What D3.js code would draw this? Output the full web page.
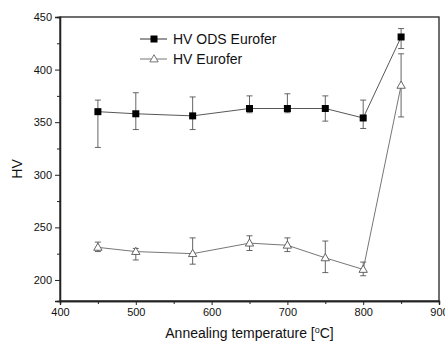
<!DOCTYPE html>
<html><head><meta charset="utf-8">
<script src="https://cdn.jsdelivr.net/npm/d3@7"></script>
<style>body{margin:0;background:#fff}svg{display:block;font-family:"Liberation Sans",Arial,sans-serif}</style>
</head><body><svg id="c" width="445" height="342"></svg>
<script>
const temps = [450, 500, 575, 650, 700, 750, 800, 850];
const odsHV = [360, 358, 356, 363, 363, 363, 354, 431];
const odsLo = [326, 343, 343, 359, 359, 351, 344, 420];
const odsHi = [371, 378, 374, 375, 377, 375, 371, 439];
const eurHV = [231, 227, 225, 235, 233, 221, 210, 385];
const eurLo = [227, 219, 215, 228, 227, 207, 204, 355];
const eurHi = [236, 230, 240, 242, 240, 237, 217, 415];
const xTicks = [400, 500, 600, 700, 800, 900];
const yTicks = [200, 250, 300, 350, 400, 450];
const seriesNames = ["HV ODS Eurofer", "HV Eurofer"];

const svg = d3.select("#c");
const L = 60, R = 439, T = 17, B = 301;
const x = d3.scaleLinear().domain([400, 900]).range([L, R]);
const y = d3.scaleLinear().domain([180, 450]).range([B, T]);

// frame
svg.append("rect").attr("x", L).attr("y", T).attr("width", R - L).attr("height", B - T)
  .attr("fill", "none").attr("stroke", "#222").attr("stroke-width", 1.3);

// axes
const xa = svg.append("g").attr("transform", `translate(0,${B})`)
  .call(d3.axisBottom(x).tickValues(xTicks).tickSize(4).tickPadding(3).tickFormat(d3.format("d")));
svg.append("g").attr("transform", `translate(0,${B})`)
  .call(d3.axisBottom(x).tickValues(d3.range(450, 900, 100)).tickSize(3).tickFormat(""));
const ya = svg.append("g").attr("transform", `translate(${L},0)`)
  .call(d3.axisLeft(y).tickValues(yTicks).tickSize(5).tickPadding(3).tickFormat(d3.format("d")));
svg.append("g").attr("transform", `translate(${L},0)`)
  .call(d3.axisLeft(y).tickValues([225, 275, 325, 375, 425]).tickSize(3).tickFormat(""));
svg.selectAll(".domain").attr("stroke", "#222").attr("stroke-width", 1.3);
svg.selectAll(".tick line").attr("stroke", "#222");
svg.selectAll(".tick text").attr("font-size", 11).attr("fill", "#111")
  .attr("font-family", "'Liberation Sans',Arial,sans-serif");

// axis titles
svg.append("text").attr("x", (L + R) / 2).attr("y", 338).attr("text-anchor", "middle")
  .attr("font-size", 14).attr("fill", "#111")
  .html('Annealing temperature [<tspan dy="-5" font-size="9">o</tspan><tspan dy="5">C]</tspan>');
svg.append("text").attr("transform", "translate(22,169) rotate(-90)").attr("text-anchor", "middle")
  .attr("font-size", 14).attr("fill", "#111").text("HV");

function drawSeries(vals, lo, hi, lineColor, marker) {
  const pts = temps.map((t, i) => ({ t, v: vals[i], lo: lo[i], hi: hi[i] }));
  const g = svg.append("g");
  g.selectAll("g.eb").data(pts).enter().append("g").each(function (d) {
    const s = d3.select(this);
    s.append("line").attr("x1", x(d.t)).attr("x2", x(d.t)).attr("y1", y(d.lo)).attr("y2", y(d.hi));
    s.append("line").attr("x1", x(d.t) - 3).attr("x2", x(d.t) + 3).attr("y1", y(d.lo)).attr("y2", y(d.lo));
    s.append("line").attr("x1", x(d.t) - 3).attr("x2", x(d.t) + 3).attr("y1", y(d.hi)).attr("y2", y(d.hi));
  }).attr("stroke", "#555").attr("stroke-width", 0.9);
  g.append("path").datum(pts).attr("fill", "none").attr("stroke", lineColor).attr("stroke-width", 0.9)
    .attr("d", d3.line().x(d => x(d.t)).y(d => y(d.v)));
  if (marker === "square") {
    g.selectAll("rect.m").data(pts).enter().append("rect")
      .attr("x", d => x(d.t) - 3.5).attr("y", d => y(d.v) - 3.5).attr("width", 7).attr("height", 7).attr("fill", "#000");
  } else {
    const tri = d3.symbol().type(d3.symbolTriangle).size(30);
    g.selectAll("path.m").data(pts).enter().append("path")
      .attr("d", tri).attr("transform", d => `translate(${x(d.t)},${y(d.v) + 0.5})`)
      .attr("fill", "#fff").attr("stroke", "#555").attr("stroke-width", 0.9);
  }
}
drawSeries(odsHV, odsLo, odsHi, "#444", "square");
drawSeries(eurHV, eurLo, eurHi, "#666", "triangle");

// legend
const leg = svg.append("g");
[0, 1].forEach(i => {
  const yy = 39 + i * 20;
  leg.append("line").attr("x1", 140).attr("x2", 167).attr("y1", yy).attr("y2", yy)
    .attr("stroke", i === 0 ? "#333" : "#777").attr("stroke-width", 1);
  if (i === 0) {
    leg.append("rect").attr("x", 150.5).attr("y", yy - 3.5).attr("width", 7).attr("height", 7).attr("fill", "#000");
  } else {
    leg.append("path").attr("d", d3.symbol().type(d3.symbolTriangle).size(30))
      .attr("transform", `translate(154,${yy + 0.5})`).attr("fill", "#fff").attr("stroke", "#666").attr("stroke-width", 0.9);
  }
  leg.append("text").attr("x", 173).attr("y", yy + 5).attr("font-size", 14).attr("fill", "#111").text(seriesNames[i]);
});
</script></body></html>
